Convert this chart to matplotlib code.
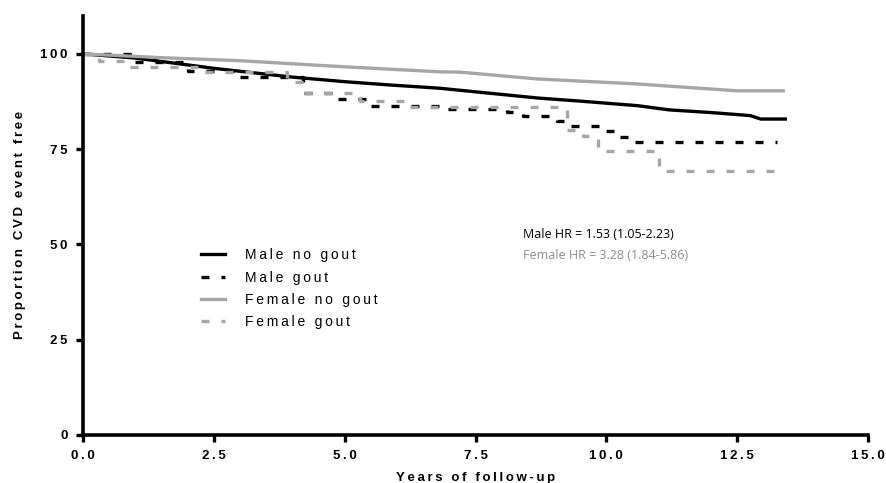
import matplotlib
matplotlib.use("Agg")
import matplotlib.pyplot as plt

# Kaplan-Meier style curves
male_nogout_t = [0, 1.0, 2.5, 4.0, 5.0, 5.9, 6.8, 7.6, 8.7, 9.5, 10.6, 11.2, 12.0, 12.75, 12.95, 13.42]
male_nogout_v = [100, 98.9, 96.2, 93.9, 92.7, 91.8, 91.0, 89.9, 88.4, 87.6, 86.4, 85.3, 84.6, 83.8, 82.9, 82.9]

female_nogout_t = [0, 1.5, 3.0, 5.0, 6.8, 7.2, 8.7, 10.6, 12.5, 13.38]
female_nogout_v = [100, 99.0, 98.2, 96.6, 95.3, 95.2, 93.4, 92.1, 90.3, 90.3]

male_gout_t = [0, 0.9, 2.0, 2.9, 4.2, 4.8, 5.4, 6.8, 8.1, 8.4, 9.05, 9.3, 9.95, 10.2, 10.45, 13.27]
male_gout_v = [100, 97.8, 95.6, 93.9, 89.8, 88.2, 86.4, 85.5, 84.7, 83.8, 82.5, 81.1, 79.8, 78.3, 76.8, 76.8]

female_gout_t = [0, 0.3, 0.9, 2.2, 3.9, 4.2, 5.3, 6.2, 9.25, 9.55, 9.85, 11.0, 13.33]
female_gout_v = [100, 98.2, 96.5, 95.2, 92.5, 89.8, 87.7, 86.0, 80.0, 78.5, 74.6, 69.3, 69.3]

labels = ["Male no gout", "Male gout", "Female no gout", "Female gout"]
xticks = [0, 2.5, 5, 7.5, 10, 12.5, 15]
yticks = [0, 25, 50, 75, 100]
hr_male = "Male HR = 1.53 (1.05-2.23)"
hr_female = "Female HR = 3.28 (1.84-5.86)"

black = "#000000"
grey = "#a6a6a6"
dash = (0, (2.4, 3.6))


def spaced(s):
    # GraphPad-style wide letter spacing
    return "\u2009".join(s)


plt.rcParams['font.family'] = ['Liberation Sans', 'DejaVu Sans']
fig = plt.figure(figsize=(8.86, 4.83), dpi=100)
ax = fig.add_axes([0.0937, 0.0994, 0.886, 0.868])

ax.plot(male_nogout_t, male_nogout_v, color=black, lw=2.4, label=spaced(labels[0]))
ax.plot(male_gout_t, male_gout_v, color=black, lw=2.4, ls=dash,
        drawstyle='steps-post', label=spaced(labels[1]))
ax.plot(female_nogout_t, female_nogout_v, color=grey, lw=2.4, label=spaced(labels[2]))
ax.plot(female_gout_t, female_gout_v, color=grey, lw=2.4, ls=dash,
        drawstyle='steps-post', label=spaced(labels[3]))

ax.set_xlim(0, 15)
ax.set_ylim(0, 110)
ax.set_xticks(xticks)
ax.set_yticks(yticks)
ax.set_xticklabels([spaced("%.1f" % t) for t in xticks])
ax.set_yticklabels([spaced(str(t)) for t in yticks])
for sp in ['top', 'right']:
    ax.spines[sp].set_visible(False)
for sp in ['left', 'bottom']:
    ax.spines[sp].set_linewidth(2.6)
ax.tick_params(width=2.4, length=5, labelsize=9.5, pad=6)
for lab in ax.get_xticklabels() + ax.get_yticklabels():
    lab.set_fontweight('bold')

ax.set_xlabel(spaced("Years of follow-up"), fontsize=9.5, fontweight='bold', labelpad=7)
ax.set_ylabel(spaced("Proportion CVD event free"), fontsize=9.5, fontweight='bold', labelpad=10)

leg = ax.legend(loc='upper left', bbox_to_anchor=(0.135, 0.475), frameon=False,
                fontsize=10, handlelength=1.7, labelspacing=0.6, handletextpad=1.4)

ax.text(0.56, 0.47, hr_male, transform=ax.transAxes, fontsize=9, color=black,
        family=['Open Sans', 'DejaVu Sans'])
ax.text(0.56, 0.42, hr_female, transform=ax.transAxes, fontsize=9, color="#8c8c8c",
        family=['Open Sans', 'DejaVu Sans'])

fig.savefig("out.png", dpi=100)
